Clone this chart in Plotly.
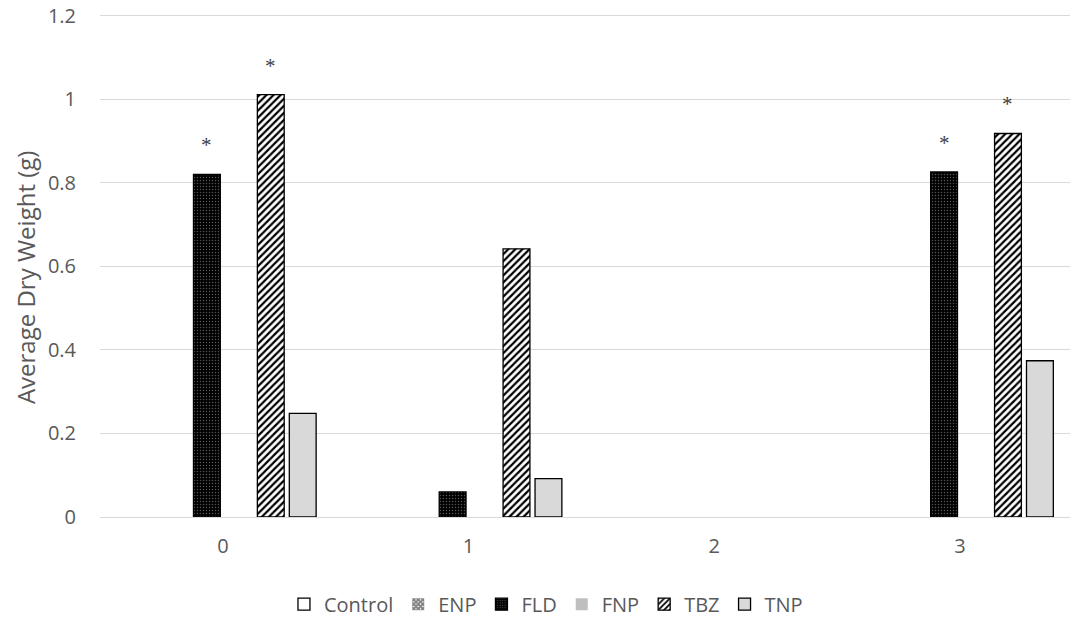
import plotly.graph_objects as go

categories = ["0", "1", "2", "3"]
series_names = ["Control", "ENP", "FLD", "FNP", "TBZ", "TNP"]
control = [0, 0, 0, 0]
enp = [0, 0, 0, 0]
fld = [0.82, 0.06, 0, 0.826]
fnp = [0, 0, 0, 0]
tbz = [1.011, 0.642, 0, 0.918]
tnp = [0.248, 0.092, 0, 0.374]
fld_sig = [True, False, False, True]
tbz_sig = [True, False, False, True]
y_ticks = [0, 0.2, 0.4, 0.6, 0.8, 1, 1.2]
y_title = "Average Dry Weight (g)"

values = [control, enp, fld, fnp, tbz, tnp]

styles = [
    dict(color="white", line=dict(color="black", width=1.3)),
    dict(color="white", line=dict(color="black", width=0),
         pattern=dict(shape="x", fgcolor="black", bgcolor="white", size=4, solidity=0.8)),
    dict(color="black", line=dict(color="black", width=1.3),
         pattern=dict(shape=".", fgcolor="#555555", bgcolor="black", size=3, solidity=0.2, fillmode="replace")),
    dict(color="#BFBFBF", line=dict(color="#BFBFBF", width=0)),
    dict(color="white", line=dict(color="black", width=1.3),
         pattern=dict(shape="/", fgcolor="black", bgcolor="white", size=5, solidity=0.45, fillmode="replace")),
    dict(color="#D9D9D9", line=dict(color="black", width=1.3)),
]

fig = go.Figure()
for name, vals, st in zip(series_names, values, styles):
    # zero values draw no bar (as in the reference)
    fig.add_trace(go.Bar(name=name, x=categories, y=[v if v else None for v in vals], marker=st))

bargap = 0.22
n = len(series_names)
slot = (1 - bargap) / n

def center_offset(i):
    return -(1 - bargap) / 2 + (i + 0.5) * slot

star_font = dict(family="Liberation Serif", size=21, color="#404040")
annotations = []
for idx, sig in enumerate(fld_sig):
    if sig:
        annotations.append(dict(x=idx + center_offset(2), y=fld[idx], xref="x", yref="y",
                                text="*", showarrow=False, yshift=29, font=star_font))
for idx, sig in enumerate(tbz_sig):
    if sig:
        annotations.append(dict(x=idx + center_offset(4), y=tbz[idx], xref="x", yref="y",
                                text="*", showarrow=False, yshift=29, font=star_font))

annotations.append(dict(text=y_title, textangle=-90, xref="paper", yref="paper",
                        x=0, xshift=-75, y=0.475, xanchor="center", yanchor="middle",
                        showarrow=False, font=dict(family="Open Sans", size=24, color="#595959")))

fig.update_layout(
    width=1078, height=621,
    margin=dict(l=92, r=8, t=6, b=111),
    paper_bgcolor="white", plot_bgcolor="white",
    barmode="group", bargap=bargap, bargroupgap=0.16,
    font=dict(family="Open Sans", size=20, color="#595959"),
    annotations=annotations,
    showlegend=True,
    legend=dict(orientation="h", x=0.456, xanchor="center",
                y=-0.171, yanchor="middle",
                font=dict(family="Open Sans", size=20, color="#595959"),
                itemwidth=30, traceorder="normal"),
)
fig.update_xaxes(type="category", range=[-0.5, 3.48], showgrid=False, showline=False,
                 automargin=False,
                 ticks="", ticklabelstandoff=15, tickfont=dict(size=20, color="#595959"))
fig.update_yaxes(range=[0, 1.204], tickmode="array", tickvals=y_ticks,
                 ticklabeloverflow="allow", automargin=False,
                 showgrid=True, gridcolor="#D9D9D9", gridwidth=1,
                 zeroline=True, zerolinecolor="#D9D9D9", zerolinewidth=1, showline=False,
                 ticks="", ticklabelstandoff=23,
                 tickfont=dict(size=20, color="#595959"))

fig.write_html("out.html")
